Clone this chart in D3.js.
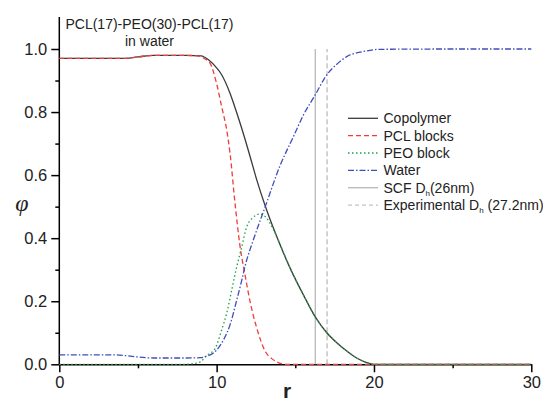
<!DOCTYPE html>
<html>
<head>
<meta charset="utf-8">
<script src="https://cdn.jsdelivr.net/npm/d3@7"></script>
<style>
  body { margin: 0; background: #fff; }
  svg { font-family: Arial, "Liberation Sans", sans-serif; }
  .axis path, .axis line { stroke: #000; stroke-width: 1.5; }
  .axis text { font-size: 16.5px; fill: #222; }
</style>
</head>
<body>
<svg id="chart" width="543" height="405"></svg>
<script>
// ---- data ----
const copolymerR   = [0, 2, 4, 5, 6, 8, 9, 9.5, 10, 10.3, 10.85, 11.36, 11.74, 12.12, 12.55, 13.09, 13.82, 14.67, 15.62, 16.26, 17.0, 17.6, 18.27, 18.9, 19.5, 20, 25, 30];
const copolymerPhi = [0.97, 0.97, 0.97, 0.975, 0.98, 0.98, 0.978, 0.965, 0.94, 0.92, 0.86, 0.785, 0.725, 0.66, 0.585, 0.502, 0.405, 0.305, 0.21, 0.151, 0.10, 0.07, 0.042, 0.02, 0.006, 0, 0, 0];

const pclR   = [0, 2, 4, 5, 6, 8, 8.8, 9.2, 9.58, 10.0, 10.32, 10.64, 10.85, 11.17, 11.49, 11.8, 12.12, 12.55, 13.08, 13.5, 13.82, 14.3, 20, 30];
const pclPhi = [0.97, 0.97, 0.97, 0.975, 0.98, 0.98, 0.978, 0.97, 0.955, 0.89, 0.817, 0.743, 0.67, 0.51, 0.373, 0.285, 0.2, 0.115, 0.042, 0.018, 0.008, 0, 0, 0];

const peoR   = [0, 8, 8.5, 9.0, 9.26, 9.9, 10.32, 10.64, 10.96, 11.28, 11.6, 11.91, 12.3, 12.76, 13.1, 13.4, 13.82, 14.67, 15.62, 16.26, 17.0, 17.6, 18.27, 18.9, 19.5, 20, 30];
const peoPhi = [0, 0, 0.002, 0.008, 0.024, 0.05, 0.109, 0.162, 0.236, 0.31, 0.373, 0.436, 0.465, 0.477, 0.468, 0.447, 0.405, 0.305, 0.21, 0.151, 0.10, 0.07, 0.042, 0.02, 0.006, 0, 0];

const waterR   = [0, 2, 3.5, 4.5, 5.5, 6, 8, 9, 9.5, 9.8, 10.0, 10.43, 10.85, 11.28, 11.6, 11.8, 12.33, 13.09, 14.03, 14.88, 15.51, 16.26, 17.0, 17.6, 18.27, 19.33, 20.4, 25, 30];
const waterPhi = [0.03, 0.03, 0.03, 0.026, 0.021, 0.02, 0.02, 0.021, 0.028, 0.036, 0.045, 0.077, 0.125, 0.204, 0.267, 0.31, 0.394, 0.50, 0.63, 0.722, 0.79, 0.854, 0.918, 0.95, 0.976, 0.992, 0.999, 1, 1];

const scfDh = 16.27;      // SCF D_h marker (r)
const expDh = 17.02;      // experimental D_h marker (r)

const xTicks = [0, 10, 20, 30];
const xMinor = [5, 15, 25];
const yTicks = [0, 0.2, 0.4, 0.6, 0.8, 1.0];
const yMinor = [0.1, 0.3, 0.5, 0.7, 0.9];

const series = [
  { name: 'Copolymer',  r: copolymerR, phi: copolymerPhi, color: '#3a3a3a', dash: null },
  { name: 'PCL blocks', r: pclR,       phi: pclPhi,       color: '#f03c3c', dash: '5,3' },
  { name: 'PEO block',  r: peoR,       phi: peoPhi,       color: '#22a04a', dash: '1.5,2.5' },
  { name: 'Water',      r: waterR,     phi: waterPhi,     color: '#3f4fb8', dash: '6,2,1.5,2' }
];

// ---- layout ----
const svg = d3.select('#chart');
const mLeft = 59.3, mRight = 531.3, mBottom = 364.3, mTop = 17;

const x = d3.scaleLinear([0, 30], [mLeft, mRight]);
const y = d3.scaleLinear([0, 1], [mBottom, 49]);

// axes (minor ticks first, then major)
svg.append('g').attr('class', 'axis')
  .attr('transform', `translate(0,${mBottom})`)
  .call(d3.axisBottom(x).tickValues(xMinor).tickSize(4).tickFormat(''))
  .select('.domain').remove();
svg.append('g').attr('class', 'axis')
  .attr('transform', `translate(0,${mBottom})`)
  .call(d3.axisBottom(x).tickValues(xTicks).tickSize(8).tickSizeOuter(0).tickPadding(4).tickFormat(d3.format('d')));

svg.append('g').attr('class', 'axis')
  .attr('transform', `translate(${mLeft},0)`)
  .call(d3.axisLeft(y).tickValues(yMinor).tickSize(4).tickFormat(''))
  .select('.domain').remove();
const yAxis = svg.append('g').attr('class', 'axis')
  .attr('transform', `translate(${mLeft},0)`)
  .call(d3.axisLeft(y).tickValues(yTicks).tickSize(8).tickSizeOuter(0).tickPadding(4).tickFormat(d3.format('.1f')));
yAxis.select('.domain').attr('d', `M0,${mBottom}V${mTop}`);

// D_h markers
svg.append('line')
  .attr('x1', x(scfDh)).attr('x2', x(scfDh))
  .attr('y1', y(0)).attr('y2', y(1))
  .attr('stroke', '#b8b8b8').attr('stroke-width', 1.3);
svg.append('line')
  .attr('x1', x(expDh)).attr('x2', x(expDh))
  .attr('y1', y(0)).attr('y2', y(1))
  .attr('stroke', '#c4c4c4').attr('stroke-width', 1.5).attr('stroke-dasharray', '5,3');

// curves
const line = d3.line()
  .x(d => x(d[0]))
  .y(d => y(d[1]))
  .curve(d3.curveMonotoneX);

series.forEach(s => {
  svg.append('path')
    .datum(s.r.map((r, i) => [r, s.phi[i]]))
    .attr('d', line)
    .attr('fill', 'none')
    .attr('stroke', s.color)
    .attr('stroke-width', 1.3)
    .attr('stroke-dasharray', s.dash);
});

// legend
const legendItems = series.map(s => ({ label: s.name, color: s.color, dash: s.dash, width: 1.3 }))
  .concat([
    { label: 'SCF D', sub: 'h', tail: '(26nm)', color: '#b8b8b8', dash: null, width: 1.3 },
    { label: 'Experimental D', sub: 'h', tail: ' (27.2nm)', color: '#c4c4c4', dash: '4,3', width: 1.3 }
  ]);

const legend = svg.append('g').attr('transform', 'translate(348,118.3)');
legendItems.forEach((d, i) => {
  const g = legend.append('g').attr('transform', `translate(0,${i * 17.35})`);
  g.append('line')
    .attr('x1', 0).attr('x2', 30)
    .attr('stroke', d.color).attr('stroke-width', d.width)
    .attr('stroke-dasharray', d.dash);
  const t = g.append('text')
    .attr('x', 35.5).attr('y', 5)
    .attr('font-size', '14px').attr('fill', '#222');
  t.append('tspan').text(d.label);
  if (d.sub) {
    t.append('tspan').text(d.sub).attr('font-size', '8px').attr('dy', 3);
    t.append('tspan').text(d.tail).attr('dy', -3);
  }
});

// title
svg.append('text').attr('x', 149.5).attr('y', 28.5).attr('text-anchor', 'middle')
  .attr('font-size', '14px').attr('fill', '#222').text('PCL(17)-PEO(30)-PCL(17)');
svg.append('text').attr('x', 149.5).attr('y', 45.5).attr('text-anchor', 'middle')
  .attr('font-size', '14px').attr('fill', '#222').text('in water');

// axis labels
svg.append('text').attr('x', 287).attr('y', 398).attr('text-anchor', 'middle')
  .attr('font-size', '21px').attr('font-weight', 'bold').attr('fill', '#222').text('r');
svg.append('text').attr('x', 22).attr('y', 211).attr('text-anchor', 'middle')
  .attr('font-family', '"Liberation Serif", "DejaVu Serif", serif')
  .attr('font-style', 'italic')
  .attr('font-size', '24px').attr('fill', '#222').text('φ');
</script>
</body>
</html>
